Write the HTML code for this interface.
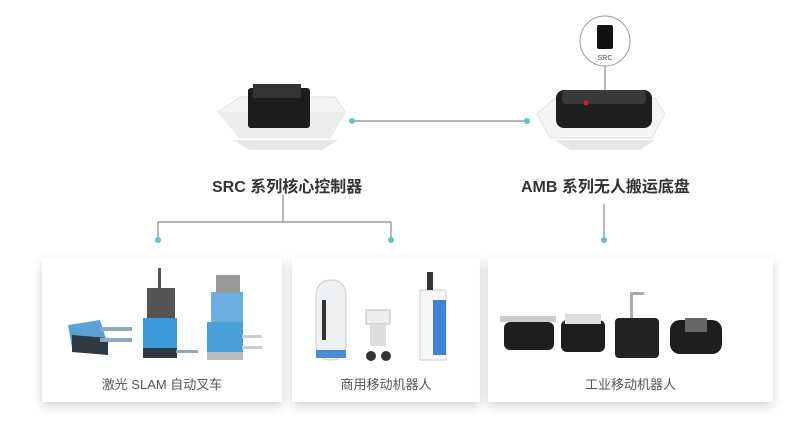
<!DOCTYPE html>
<html><head><meta charset="utf-8"><style>
body{margin:0;width:800px;height:430px;background:#fff;overflow:hidden;font-family:"Liberation Sans","Noto Sans CJK SC",sans-serif;position:relative}
.t{position:absolute;font-weight:bold;font-size:16px;color:#333;white-space:nowrap}
.card{position:absolute;background:#fff;box-shadow:0 4px 10px rgba(0,0,0,.18)}
.lab{position:absolute;width:100%;text-align:center;font-size:13px;color:#555;top:116px}
</style></head><body>
<svg width="800" height="430" style="position:absolute;left:0;top:0">
<g stroke="#888" stroke-width="1.2" fill="none">
<line x1="352" y1="121" x2="527" y2="121"/>
<line x1="283" y1="195" x2="283" y2="222"/>
<line x1="158" y1="222" x2="391" y2="222"/>
<line x1="158" y1="222" x2="158" y2="240"/>
<line x1="391" y1="222" x2="391" y2="240"/>
<line x1="604" y1="204" x2="604" y2="240"/>
<line x1="605" y1="66" x2="605" y2="102"/>
</g>
<g fill="#5cc6c6"><circle cx="352" cy="121" r="3"/><circle cx="527" cy="121" r="3"/><circle cx="158" cy="240" r="3"/><circle cx="391" cy="240" r="3"/><circle cx="604" cy="240" r="3"/></g>
<!-- left platform -->
<polygon points="233,140 338,140 322,150 250,150" fill="#e6e6e6"/>
<polygon points="218,112 240,97 335,97 345,112 330,138 240,138" fill="#f4f4f4" stroke="#e0e0e0"/>
<polygon points="218,112 345,112 330,138 240,138" fill="#ececec"/>
<rect x="248" y="88" width="62" height="40" rx="3" fill="#1d1d1d"/>
<rect x="253" y="84" width="48" height="14" fill="#333"/>
<!-- right platform -->
<polygon points="555,140 655,140 640,150 570,150" fill="#e6e6e6"/>
<polygon points="537,114 555,98 655,98 665,114 652,138 550,138" fill="#f4f4f4" stroke="#e0e0e0"/>
<rect x="556" y="90" width="96" height="38" rx="8" fill="#1f1f1f"/>
<rect x="562" y="90" width="84" height="14" rx="4" fill="#3a3a3a"/>
<circle cx="586" cy="103" r="2.5" fill="#c22"/>
<circle cx="605" cy="41" r="25" fill="#fff" stroke="#999"/>
<rect x="597" y="25" width="16" height="24" rx="2" fill="#111"/>
<text x="605" y="60" font-size="7" text-anchor="middle" fill="#444" font-family="Liberation Sans">SRC</text>
<!-- card1 robots -->
<g>
<polygon points="68,325 100,320 108,345 72,348" fill="#5aa2d6"/><polygon points="72,335 108,338 108,355 72,352" fill="#2d3a44"/>
<rect x="100" y="327" width="32" height="4" fill="#8ab"/><rect x="100" y="338" width="32" height="4" fill="#8ab"/>
<rect x="147" y="288" width="28" height="30" fill="#555"/><rect x="158" y="268" width="3" height="22" fill="#555"/>
<rect x="143" y="318" width="34" height="30" fill="#3c9ad8"/><rect x="143" y="348" width="34" height="10" fill="#2d3a44"/>
<rect x="176" y="350" width="22" height="3" fill="#8ab"/>
<rect x="211" y="292" width="32" height="30" fill="#6aaee0"/><rect x="216" y="275" width="24" height="18" fill="#999"/>
<rect x="207" y="322" width="36" height="30" fill="#4aa0d8"/><rect x="207" y="352" width="36" height="8" fill="#bbb"/>
<rect x="242" y="335" width="20" height="3" fill="#ccc"/><rect x="242" y="346" width="20" height="3" fill="#ccc"/>
</g>
<!-- card2 robots -->
<g>
<rect x="316" y="280" width="30" height="80" rx="14" fill="#eef0f2" stroke="#ccc"/><rect x="316" y="350" width="30" height="8" fill="#4a8fd6"/>
<rect x="322" y="300" width="4" height="40" fill="#333"/>
<rect x="366" y="310" width="24" height="14" fill="#eee" stroke="#bbb"/><rect x="370" y="324" width="16" height="22" fill="#ddd"/>
<circle cx="371" cy="356" r="5" fill="#333"/><circle cx="386" cy="356" r="5" fill="#333"/>
<rect x="420" y="290" width="26" height="70" fill="#f6f6f6" stroke="#ccc"/><rect x="433" y="300" width="13" height="55" fill="#3d82d4"/><rect x="427" y="272" width="6" height="18" fill="#333"/>
</g>
<!-- card3 robots -->
<g>
<rect x="504" y="322" width="50" height="28" rx="6" fill="#1e1e1e"/><rect x="500" y="316" width="56" height="6" fill="#ccc"/>
<rect x="561" y="320" width="44" height="32" rx="6" fill="#1e1e1e"/><rect x="565" y="314" width="36" height="10" fill="#ddd"/>
<rect x="615" y="318" width="44" height="40" rx="4" fill="#222"/><rect x="630" y="292" width="3" height="26" fill="#aaa"/><rect x="630" y="292" width="14" height="3" fill="#aaa"/>
<rect x="670" y="320" width="52" height="34" rx="10" fill="#1e1e1e"/><rect x="685" y="318" width="22" height="14" fill="#666"/>
</g>
</svg>
<div class="t" style="left:212px;top:173px">SRC 系列核心控制器</div>
<div class="t" style="left:521px;top:173px">AMB 系列无人搬运底盘</div>
<div class="card" style="left:42px;top:258px;width:240px;height:144px"><div class="lab">激光 SLAM 自动叉车</div></div>
<div class="card" style="left:292px;top:258px;width:188px;height:144px"><div class="lab">商用移动机器人</div></div>
<div class="card" style="left:488px;top:258px;width:285px;height:144px"><div class="lab">工业移动机器人</div></div>
<svg width="800" height="430" style="position:absolute;left:0;top:0">
<g>
<polygon points="68,325 100,320 108,345 72,348" fill="#5aa2d6"/><polygon points="72,335 108,338 108,355 72,352" fill="#2d3a44"/>
<rect x="100" y="327" width="32" height="4" fill="#8ab"/><rect x="100" y="338" width="32" height="4" fill="#8ab"/>
<rect x="147" y="288" width="28" height="30" fill="#555"/><rect x="158" y="268" width="3" height="22" fill="#555"/>
<rect x="143" y="318" width="34" height="30" fill="#3c9ad8"/><rect x="143" y="348" width="34" height="10" fill="#2d3a44"/>
<rect x="176" y="350" width="22" height="3" fill="#8ab"/>
<rect x="211" y="292" width="32" height="30" fill="#6aaee0"/><rect x="216" y="275" width="24" height="18" fill="#999"/>
<rect x="207" y="322" width="36" height="30" fill="#4aa0d8"/><rect x="207" y="352" width="36" height="8" fill="#bbb"/>
<rect x="242" y="335" width="20" height="3" fill="#ccc"/><rect x="242" y="346" width="20" height="3" fill="#ccc"/>
<rect x="316" y="280" width="30" height="80" rx="14" fill="#eef0f2" stroke="#ccc"/><rect x="316" y="350" width="30" height="8" fill="#4a8fd6"/>
<rect x="322" y="300" width="4" height="40" fill="#333"/>
<rect x="366" y="310" width="24" height="14" fill="#eee" stroke="#bbb"/><rect x="370" y="324" width="16" height="22" fill="#ddd"/>
<circle cx="371" cy="356" r="5" fill="#333"/><circle cx="386" cy="356" r="5" fill="#333"/>
<rect x="420" y="290" width="26" height="70" fill="#f6f6f6" stroke="#ccc"/><rect x="433" y="300" width="13" height="55" fill="#3d82d4"/><rect x="427" y="272" width="6" height="18" fill="#333"/>
<rect x="504" y="322" width="50" height="28" rx="6" fill="#1e1e1e"/><rect x="500" y="316" width="56" height="6" fill="#ccc"/>
<rect x="561" y="320" width="44" height="32" rx="6" fill="#1e1e1e"/><rect x="565" y="314" width="36" height="10" fill="#ddd"/>
<rect x="615" y="318" width="44" height="40" rx="4" fill="#222"/><rect x="630" y="292" width="3" height="26" fill="#aaa"/><rect x="630" y="292" width="14" height="3" fill="#aaa"/>
<rect x="670" y="320" width="52" height="34" rx="10" fill="#1e1e1e"/><rect x="685" y="318" width="22" height="14" fill="#666"/>
</g>
</svg>
</body></html>
